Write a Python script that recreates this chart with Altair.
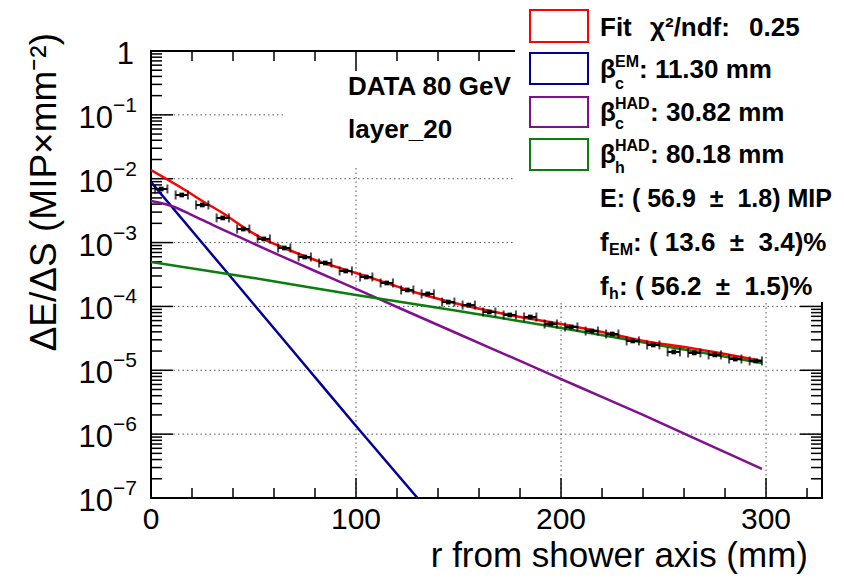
import altair as alt
import pandas as pd

# ---------------- data ----------------
# data points (bin centre r in mm, dE/dS)
data_r = [5, 15, 25, 35, 45, 55, 65, 75, 85, 95, 105, 115, 125, 135, 145,
          155, 165, 175, 185, 195, 205, 215, 225, 235, 245, 255, 265, 275, 285, 295]
data_v = [6.90e-3, 5.56e-3, 3.88e-3, 2.43e-3, 1.63e-3, 1.14e-3, 8.22e-4, 5.94e-4,
          4.79e-4, 3.59e-4, 2.89e-4, 2.33e-4, 1.81e-4, 1.57e-4, 1.17e-4, 1.05e-4,
          8.19e-5, 7.35e-5, 6.83e-5, 5.31e-5, 4.77e-5, 4.12e-5, 3.70e-5, 2.88e-5,
          2.49e-5, 1.94e-5, 1.87e-5, 1.74e-5, 1.50e-5, 1.40e-5]
data_half_width = 3.0

# total fit (red)
fit_r = [0, 15, 25, 35, 45, 53, 65, 80, 100, 115, 130, 150, 175, 200, 220, 243, 260, 280, 298]
fit_v = [1.37e-2, 7.16e-3, 4.48e-3, 2.90e-3, 1.75e-3, 1.22e-3, 8.23e-4, 5.34e-4, 3.34e-4,
         2.33e-4, 1.62e-4, 1.09e-4, 7.34e-5, 5.31e-5, 3.98e-5, 2.77e-5, 2.32e-5, 1.80e-5, 1.40e-5]
# EM core (blue)
em_r = [0, 25, 50, 75, 100, 130]
em_v = [8.9e-3, 9.85e-4, 1.09e-4, 1.21e-5, 1.34e-6, 1.0e-7]
# hadronic core (purple)
hadc_r = [0, 10, 20, 30, 45, 60, 80, 100, 120, 150, 180, 210, 240, 270, 298]
hadc_v = [4.48e-3, 3.74e-3, 2.70e-3, 1.89e-3, 1.14e-3, 6.87e-4, 3.59e-4, 1.88e-4, 9.80e-5,
          3.70e-5, 1.40e-5, 5.28e-6, 2.00e-6, 7.27e-7, 2.85e-7]
# hadronic halo (green)
hadh_r = [0, 50, 100, 150, 200, 250, 298]
hadh_v = [4.97e-4, 2.79e-4, 1.51e-4, 8.49e-5, 4.60e-5, 2.40e-5, 1.30e-5]

series_names = ["EM", "HADc", "HADh", "Fit"]
series_colors = ["#000099", "#80108f", "#0a7d0a", "#ff0000"]

# axes
x_labels = [0, 100, 200, 300]
x_grid = [100, 200, 300]
x_minor = [20, 40, 60, 80, 120, 140, 160, 180, 220, 240, 260, 280, 320]
y_decades = [1e-1, 1e-2, 1e-3, 1e-4, 1e-5, 1e-6, 1e-7]
y_exp = ["\u22121", "\u22122", "\u22123", "\u22124", "\u22125", "\u22126", "\u22127"]
y_grid = [1e-1, 1e-2, 1e-3, 1e-4, 1e-5, 1e-6]
y_minor = [k * 10.0 ** n for n in range(-7, 0) for k in range(2, 10)]

# ---------------- chart ----------------
W, H = 671, 447
FONT = "Liberation Sans"
xs = alt.Scale(domain=[0, 327.3], nice=False, zero=False)
ys = alt.Scale(type="log", domain=[1e-7, 1], nice=False)


def X(f="r"):
    return alt.X(f"{f}:Q", scale=xs, axis=None)


def Y(f="v"):
    return alt.Y(f"{f}:Q", scale=ys, axis=None)


one = pd.DataFrame({"a": [0]})


def txt(s, x, y, size=26, bold=True, align="left", baseline="middle", angle=0):
    kw = dict(text=s, fontSize=size, font=FONT, align=align, baseline=baseline,
              color="black", fontWeight="bold" if bold else "normal")
    if angle:
        kw["angle"] = angle
    return alt.Chart(one).mark_text(**kw).encode(x=alt.value(x), y=alt.value(y))


layers = []
dot = dict(color="#555555", strokeDash=[1.5, 3], strokeWidth=1)
layers.append(alt.Chart(pd.DataFrame({"r": x_grid})).mark_rule(**dot).encode(
    x=X(), y=alt.value(0), y2=alt.value(H)))
layers.append(alt.Chart(pd.DataFrame({"v": y_grid})).mark_rule(**dot).encode(
    y=Y(), x=alt.value(0), x2=alt.value(W)))

# white pave behind the DATA text
layers.append(alt.Chart(one).mark_rect(fill="white").encode(
    x=alt.value(132), x2=alt.value(364), y=alt.value(2), y2=alt.value(114)))

# frame
layers.append(alt.Chart(one).mark_rect(fill="transparent", stroke="black", strokeWidth=2).encode(
    x=alt.value(0), x2=alt.value(W), y=alt.value(0), y2=alt.value(H)))

tk = dict(color="black", strokeWidth=1.5)
dmaj = pd.DataFrame({"v": y_grid})
dmin = pd.DataFrame({"v": y_minor})
for df, L in [(dmaj, 22), (dmin, 11)]:
    layers.append(alt.Chart(df).mark_rule(**tk).encode(y=Y(), x=alt.value(0), x2=alt.value(L)))
    layers.append(alt.Chart(df).mark_rule(**tk).encode(y=Y(), x=alt.value(W), x2=alt.value(W - L)))
xmaj = pd.DataFrame({"r": x_grid})
xmin = pd.DataFrame({"r": x_minor})
for df, L in [(xmaj, 20), (xmin, 10)]:
    layers.append(alt.Chart(df).mark_rule(**tk).encode(x=X(), y=alt.value(H), y2=alt.value(H - L)))
    layers.append(alt.Chart(df).mark_rule(**tk).encode(x=X(), y=alt.value(0), y2=alt.value(L)))

# legend pave
layers.append(alt.Chart(one).mark_rect(fill="white").encode(
    x=alt.value(364), x2=alt.value(700), y=alt.value(-60), y2=alt.value(251)))

# curves
curves = pd.concat([
    pd.DataFrame({"r": em_r, "v": em_v, "s": "EM"}),
    pd.DataFrame({"r": hadc_r, "v": hadc_v, "s": "HADc"}),
    pd.DataFrame({"r": hadh_r, "v": hadh_v, "s": "HADh"}),
    pd.DataFrame({"r": fit_r, "v": fit_v, "s": "Fit"}),
])
layers.append(alt.Chart(curves).mark_line(strokeWidth=2.5, clip=True, interpolate="monotone").encode(
    x=X(), y=Y(),
    color=alt.Color("s:N", scale=alt.Scale(domain=series_names, range=series_colors), legend=None),
    detail="s:N"))

# data points
pts = pd.DataFrame({"r": data_r, "v": data_v})
pts["lo"] = pts["r"] - data_half_width
pts["hi"] = pts["r"] + data_half_width
layers.append(alt.Chart(pts).mark_rule(color="black", strokeWidth=2).encode(
    x=X("lo"), x2="hi:Q", y=Y()))
layers.append(alt.Chart(pts).mark_tick(color="black", orient="vertical", size=9, thickness=2).encode(
    x=X("lo"), y=Y()))
layers.append(alt.Chart(pts).mark_tick(color="black", orient="vertical", size=9, thickness=2).encode(
    x=X("hi"), y=Y()))
layers.append(alt.Chart(pts).mark_square(color="black", size=22, opacity=1).encode(x=X(), y=Y()))

# tick labels
layers.append(alt.Chart(pd.DataFrame({"r": x_labels, "t": [str(v) for v in x_labels]})).mark_text(
    fontSize=30, font=FONT, baseline="middle", align="center", color="black").encode(
    x=X(), y=alt.value(469), text="t:N"))
ylab = pd.DataFrame({"v": y_decades, "e": y_exp})
layers.append(alt.Chart(ylab).mark_text(fontSize=31, font=FONT, baseline="middle", align="right",
                                        color="black", dy=4, text="10").encode(
    y=Y(), x=alt.value(-38)))
layers.append(alt.Chart(ylab).mark_text(fontSize=21, font=FONT, baseline="middle", align="left",
                                        color="black", dy=-9).encode(
    y=Y(), x=alt.value(-38), text="e:N"))
layers.append(alt.Chart(pd.DataFrame({"v": [1.0]})).mark_text(
    fontSize=31, font=FONT, baseline="middle", align="right", color="black", dy=4, text="1").encode(
    y=Y(), x=alt.value(-17)))

# axis titles
layers.append(txt("r from shower axis (mm)", 657, 516, size=35, bold=False, align="right",
                  baseline="alphabetic"))
layers.append(txt("\u0394E/\u0394S (MIP\u00d7mm\u207b\u00b2)", -95, -18, size=37, bold=False,
                  align="right", baseline="alphabetic", angle=270))

# pave text
layers.append(txt("DATA 80 GeV", 197, 36))
layers.append(txt("layer_20", 197, 79))

# legend swatches
sw = [(-41, -9), (2, 33), (46, 76), (88, 119)]
for (y1, y2), c in zip(sw, [series_colors[3], series_colors[0], series_colors[1], series_colors[2]]):
    layers.append(alt.Chart(one).mark_rect(fill="white", stroke=c, strokeWidth=2).encode(
        x=alt.value(379), x2=alt.value(437), y=alt.value(y1), y2=alt.value(y2)))

NB = "\u00a0"
LX = 449
layers.append(txt("Fit", LX, -23))
layers.append(txt("\u03c7\u00b2/ndf:", 499, -23))
layers.append(txt("0.25", 598, -23))
layers.append(txt("\u03b2", LX, 19))
layers.append(txt("EM", 464, 11, size=16))
layers.append(txt("c", 464, 33, size=16))
layers.append(txt(": 11.30 mm", 488, 19))
layers.append(txt("\u03b2", LX, 62))
layers.append(txt("HAD", 464, 53, size=16))
layers.append(txt("c", 464, 73, size=16))
layers.append(txt(": 30.82 mm", 499, 62))
layers.append(txt("\u03b2", LX, 104))
layers.append(txt("HAD", 464, 95, size=16))
layers.append(txt("h", 464, 117, size=16))
layers.append(txt(": 80.18 mm", 499, 104))
layers.append(txt(f"E: ( 56.9 {NB}\u00b1{NB} 1.8) MIP", LX, 148, size=25))
layers.append(txt("f", LX, 192))
layers.append(txt("EM", 458, 199, size=16))
layers.append(txt(f": ( 13.6 {NB}\u00b1{NB} 3.4)%", 482, 192))
layers.append(txt("f", LX, 236))
layers.append(txt("h", 458, 243, size=16))
layers.append(txt(f": ( 56.2 {NB}\u00b1{NB} 1.5)%", 468, 236))

chart = alt.layer(*layers).properties(
    width=W, height=H,
    padding={"left": 143, "top": 43, "right": 14, "bottom": 79},
    autosize="none",
).configure_view(stroke=None)

chart.save("out.html", embed_options={"renderer": "svg", "actions": False})
